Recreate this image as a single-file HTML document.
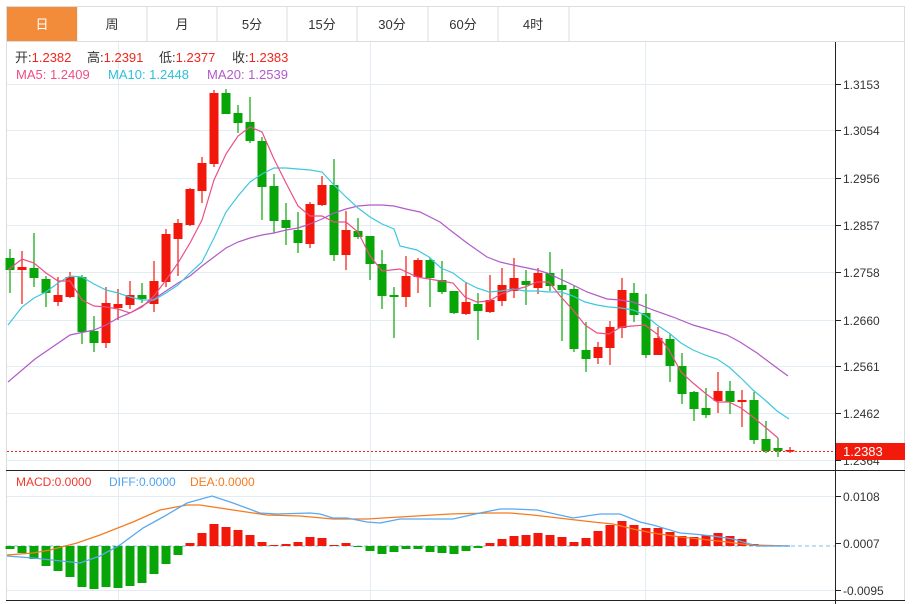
<!DOCTYPE html>
<html><head><meta charset="utf-8"><style>
html,body{margin:0;padding:0;background:#fff;width:915px;height:604px;overflow:hidden}
svg{display:block}
text{font-family:"Liberation Sans","Noto Sans CJK SC",sans-serif}
</style></head><body>
<svg width="915" height="604" viewBox="0 0 915 604">
<!-- tabs -->
<g stroke="#dcdcdc" fill="none">
<rect x="6.5" y="6.5" width="898" height="35"/>
<line x1="77" y1="6" x2="77" y2="41"/><line x1="147" y1="6" x2="147" y2="41"/><line x1="217" y1="6" x2="217" y2="41"/><line x1="287" y1="6" x2="287" y2="41"/><line x1="357" y1="6" x2="357" y2="41"/><line x1="428" y1="6" x2="428" y2="41"/><line x1="498" y1="6" x2="498" y2="41"/><line x1="569" y1="6" x2="569" y2="41"/>
</g>
<rect x="7" y="7" width="70" height="34" fill="#f28c3a"/>
<g font-size="13" text-anchor="middle" fill="#333">
<text x="42" y="29" fill="#fff">日</text><text x="112" y="29">周</text><text x="182" y="29">月</text><text x="252" y="29">5分</text><text x="322" y="29">15分</text><text x="392" y="29">30分</text><text x="463" y="29">60分</text><text x="533" y="29">4时</text>
</g>
<!-- frame -->
<line x1="6.5" y1="42" x2="6.5" y2="600" stroke="#dcdcdc"/>
<line x1="904.5" y1="42" x2="904.5" y2="600" stroke="#dcdcdc"/>
<!-- grid -->
<g stroke="#e3ecf3" stroke-width="1">
<line x1="7" y1="84.5" x2="835" y2="84.5"/><line x1="7" y1="130.5" x2="835" y2="130.5"/><line x1="7" y1="178.5" x2="835" y2="178.5"/><line x1="7" y1="225.5" x2="835" y2="225.5"/><line x1="7" y1="272.5" x2="835" y2="272.5"/><line x1="7" y1="320.5" x2="835" y2="320.5"/><line x1="7" y1="366.5" x2="835" y2="366.5"/><line x1="7" y1="413.5" x2="835" y2="413.5"/><line x1="7" y1="460.5" x2="835" y2="460.5"/>
<line x1="7" y1="496.5" x2="835" y2="496.5"/><line x1="7" y1="590.5" x2="835" y2="590.5"/>
<line x1="118.5" y1="42" x2="118.5" y2="600"/><line x1="370.5" y1="42" x2="370.5" y2="600"/><line x1="645.5" y1="42" x2="645.5" y2="600"/>
</g>
<!-- axes -->
<line x1="835.5" y1="42" x2="835.5" y2="604" stroke="#222"/>
<line x1="6" y1="470.5" x2="905" y2="470.5" stroke="#222"/>
<line x1="6" y1="600.5" x2="905" y2="600.5" stroke="#222"/>
<g stroke="#222"><line x1="835" y1="84.5" x2="841" y2="84.5"/><line x1="835" y1="130.5" x2="841" y2="130.5"/><line x1="835" y1="178.5" x2="841" y2="178.5"/><line x1="835" y1="225.5" x2="841" y2="225.5"/><line x1="835" y1="272.5" x2="841" y2="272.5"/><line x1="835" y1="320.5" x2="841" y2="320.5"/><line x1="835" y1="366.5" x2="841" y2="366.5"/><line x1="835" y1="413.5" x2="841" y2="413.5"/><line x1="835" y1="460.5" x2="841" y2="460.5"/><line x1="835" y1="496.5" x2="841" y2="496.5"/><line x1="835" y1="543.5" x2="841" y2="543.5"/><line x1="835" y1="590.5" x2="841" y2="590.5"/></g>
<g font-size="12" fill="#333">
<text x="843" y="89">1.3153</text><text x="843" y="135">1.3054</text><text x="843" y="183">1.2956</text><text x="843" y="230">1.2857</text><text x="843" y="277">1.2758</text><text x="843" y="325">1.2660</text><text x="843" y="371">1.2561</text><text x="843" y="418">1.2462</text><text x="843" y="465">1.2364</text>
<text x="843" y="501">0.0108</text><text x="843" y="548">0.0007</text><text x="843" y="595">-0.0095</text>
</g>
<!-- info text -->
<g font-size="13">
<text x="15" y="62" fill="#333">开:<tspan fill="#f0261c">1.2382</tspan></text>
<text x="87" y="62" fill="#333">高:<tspan fill="#f0261c">1.2391</tspan></text>
<text x="159" y="62" fill="#333">低:<tspan fill="#f0261c">1.2377</tspan></text>
<text x="232" y="62" fill="#333">收:<tspan fill="#f0261c">1.2383</tspan></text>
<text x="16" y="79" fill="#ec4f86">MA5: 1.2409</text>
<text x="108" y="79" fill="#2fbfd6">MA10: 1.2448</text>
<text x="207" y="79" fill="#b25ac9">MA20: 1.2539</text>
</g>
<g font-size="12">
<text x="16" y="486" fill="#f0392c">MACD:0.0000</text>
<text x="109" y="486" fill="#4fa3ef">DIFF:0.0000</text>
<text x="190" y="486" fill="#f47b20">DEA:0.0000</text>
</g>
<!-- candles -->
<g id="c" stroke-width="1.2"></g>
<!-- MAs -->
<polyline fill="none" stroke="#b25ac9" stroke-width="1.2" points="8,382 35,359 70,335 94,330 106,325 118,318 130,313 142,306 154,299 166,291 178,283 190,276 202,266 214,257 226,248 238,242 250,238 262,235 274,233 286,230 298,228 310,224 322,219 334,213 346,209 358,206 370,205 382,205 394,206 406,209 420,212 440,222 450,230 467,243 487,257 500,262 513,265 537,270 547,273 573,285 587,292 607,299 620,300 633,302 653,310 673,317 693,325 707,329 727,335 740,342 757,353 773,365 788,376"/>
<polyline fill="none" stroke="#3ec8dc" stroke-width="1.2" points="8,325 22,307 34,298 46,292 58,283 70,276 82,277 94,284 106,290 118,293 130,297 142,300 154,300 166,293 178,285 190,273 202,262 214,238 226,212 238,196 250,182 262,174 274,168 286,168 298,169 310,170 322,172 334,185 346,197 358,208 370,217 382,224 394,229 400,246 417,250 429,257 441,268 453,273 465,282 477,288 489,292 501,291 513,289 525,291 537,291 549,292 561,292 573,296 585,302 597,305 609,307 621,308 633,310 645,315 657,325 669,333 681,343 693,350 705,355 717,359 729,367 741,378 753,390 765,400 777,411 789,419"/>
<polyline fill="none" stroke="#ec4f86" stroke-width="1.2" points="8,270 22,259 34,263 46,273 58,281 70,281 82,300 94,306 106,307 118,309 130,313 142,307 154,296 166,280 178,263 190,243 202,220 214,180 226,154 238,136 250,127 262,132 274,159 286,183 298,206 310,216 322,216 334,222 346,222 358,232 370,256 382,271 400,269 417,277 429,279 441,281 453,283 465,297 477,302 489,301 501,294 513,290 525,287 537,282 549,282 561,297 573,310 585,325 597,333 609,334 621,327 633,326 645,325 657,334 669,350 681,372 693,383 705,393 717,402 729,402 741,408 753,417 765,427 778,438"/>
<!-- last price -->
<line x1="7" y1="451.5" x2="835" y2="451.5" stroke="#f0261c" stroke-dasharray="2,2"/>
<rect x="836" y="443" width="69" height="17" fill="#f21a0a"/>
<text x="843" y="456" font-size="13" fill="#fff">1.2383</text>
<!-- MACD -->
<line x1="7" y1="546" x2="835" y2="546" stroke="#a9d6ee" stroke-dasharray="4,3" stroke-width="1.5"/>
<g id="m"></g>
<polyline fill="none" stroke="#f47b20" stroke-width="1.3" points="7,555 33,553 50,550 77,543 100,535 133,522 160,510 187,505 200,505 233,510 267,515 300,516 333,519 367,519 400,517 450,514 490,513 510,513 533,515 567,519 593,522 613,524 633,529 653,533 680,537 700,539 727,542 750,545 790,546"/>
<polyline fill="none" stroke="#5aa8f0" stroke-width="1.3" points="7,556 33,558 80,563 100,556 120,545 143,528 163,517 187,503 212,496 233,503 260,513 277,514 310,513 320,514 333,518 347,518 367,522 380,523 400,519 433,519 453,519 480,513 500,509 513,509 537,510 573,518 600,514 620,514 640,522 653,525 680,533 693,534 713,536 733,539 750,544 757,546 790,546"/>
</svg>
<script>
var C=[[10,'G',258,270,249,293],[22,'R',267,270,251,304],[34,'G',268,278,233,287],[46,'G',279,293,276,307],[58,'R',295,302,277,306],[70,'R',277,297,272,298],[82,'G',277,332,275,344],[94,'G',331,343,316,352],[106,'R',303,343,287,348],[118,'R',304,308,289,320],[130,'R',295,305,281,309],[142,'G',295,299,283,303],[154,'R',281,304,261,312],[166,'R',234,282,229,287],[178,'R',223,239,219,276],[190,'R',189,225,188,226],[202,'R',163,191,157,203],[214,'R',93,164,90,167],[226,'G',93,114,89,114],[238,'G',113,123,105,133],[250,'G',122,141,97,143],[262,'G',141,187,137,220],[274,'G',186,221,174,233],[286,'G',220,228,203,245],[298,'G',230,243,212,253],[310,'R',204,244,202,248],[322,'R',185,205,176,206],[334,'G',185,255,159,261],[346,'R',230,255,211,270],[358,'G',231,237,218,239],[370,'G',236,264,236,280],[382,'G',264,296,250,309],[394,'G',295,297,287,338],[406,'R',276,297,256,307],[418,'R',260,277,258,293],[430,'G',260,278,258,307],[442,'G',280,292,261,294],[454,'G',291,313,291,314],[466,'R',302,314,282,315],[478,'G',304,311,293,340],[490,'R',300,312,275,313],[502,'R',285,301,268,306],[514,'R',278,291,258,298],[526,'G',281,285,270,305],[538,'R',273,288,268,294],[550,'G',273,286,252,291],[562,'G',285,290,269,341],[574,'G',289,349,286,352],[586,'G',350,359,322,372],[598,'R',347,358,342,364],[610,'R',327,348,321,365],[622,'R',290,328,278,338],[634,'G',293,315,283,322],[646,'G',313,355,294,358],[658,'R',338,355,327,355],[670,'G',339,366,334,382],[682,'G',366,394,353,404],[694,'G',392,409,391,421],[706,'G',408,415,388,418],[718,'R',391,401,372,413],[730,'G',391,402,381,414],[742,'R',400,402,390,427],[754,'G',400,440,392,444],[766,'G',439,451,421,453],[778,'G',448,451,438,457],[790,'R',450,451,447,453]];
var M=[549,553,559,566,571,577,587,589,587,588,586,583,574,564,555,543,533,524,527,530,535,542,545,544,542,537,538,545,543,547,551,554,552,549,549,552,553,554,551,548,543,539,536,535,533,535,537,542,538,531,525,521,525,528,528,532,536,537,535,533,536,539,544];
var g=document.getElementById('c'),h='';
C.forEach(function(c){var col=c[1]=='R'?'#f2170b':'#08a508';var t=Math.min(c[2],c[3]),b=Math.max(c[2],c[3]);
h+='<line x1="'+c[0]+'" y1="'+c[4]+'" x2="'+c[0]+'" y2="'+c[5]+'" stroke="'+col+'"/><rect x="'+(c[0]-4.5)+'" y="'+t+'" width="9" height="'+Math.max(b-t,1.5)+'" fill="'+col+'"/>';});
g.innerHTML=h;h='';
M.forEach(function(v,i){var x=10+12*i-4.5;var col=v<546?'#f2170b':'#08a508';var t=Math.min(v,546),b=Math.max(v,546);
h+='<rect x="'+x+'" y="'+t+'" width="9" height="'+Math.max(b-t,1)+'" fill="'+col+'"/>';});
document.getElementById('m').innerHTML=h;
</script>
</body></html>
